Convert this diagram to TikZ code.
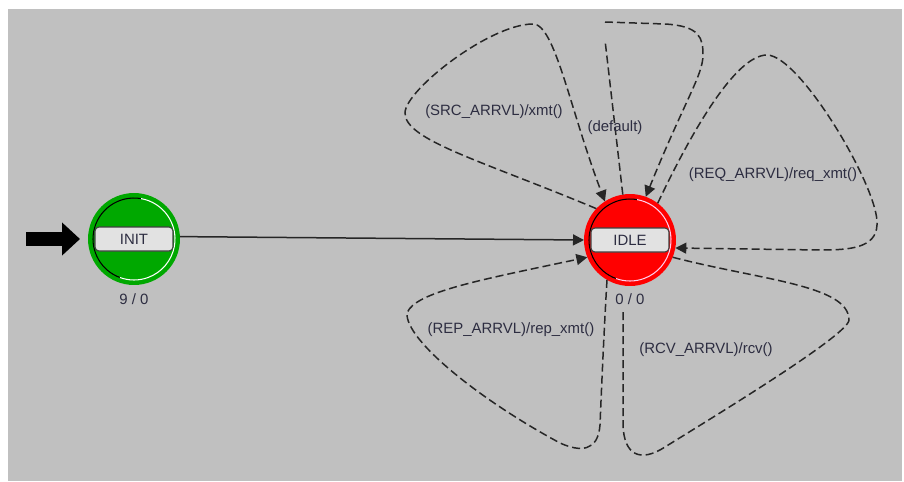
\documentclass[tikz,border=0pt]{standalone}
\usepackage{fontspec}
\setmainfont{Liberation Sans}
\usetikzlibrary{arrows.meta}
\definecolor{canvasgray}{RGB}{192,192,192}
\definecolor{initgreen}{RGB}{0,168,0}
\definecolor{idlered}{RGB}{255,0,0}
\definecolor{boxgray}{RGB}{226,226,226}
\definecolor{labelink}{RGB}{45,45,65}
\definecolor{pinkrim}{RGB}{255,205,235}
\newcommand\diagfont{\fontsize{8.5}{10}\selectfont}
\tikzset{
  stateball/.style={circle, minimum size=1.84cm, inner sep=0pt, outer sep=0pt, draw=none},
  statebox/.style={rectangle, rounded corners=0.08cm, draw=black!75, fill=boxgray, line width=0.6pt,
    minimum width=1.56cm, minimum height=0.48cm, inner sep=0pt, font=\diagfont, text=labelink},
  countlabel/.style={font=\diagfont, text=labelink, inner sep=1pt},
  translabel/.style={font=\diagfont, text=labelink, inner sep=1pt},
  rimdark/.style={draw=black, line width=0.6pt},
  rimlight/.style={draw=white, line width=0.6pt},
  trans/.style={line width=0.03cm, draw=black!85, dash pattern=on 0.16cm off 0.08cm,
    -{Triangle[length=0.22cm,width=0.22cm]}},
  transplain/.style={line width=0.03cm, draw=black!85, dash pattern=on 0.16cm off 0.08cm},
  flow/.style={line width=0.03cm, draw=black!85, -{Triangle[length=0.22cm,width=0.22cm]}},
  entryarrow/.style={line width=0.28cm, draw=black, shorten >=0.16cm,
    -{Triangle[length=0.36cm,width=0.64cm]}},
}
\begin{document}
\begin{tikzpicture}[x=0.02cm, y=-0.02cm]
\useasboundingbox (0,0) rectangle (904,481);
\fill[white] (0,0) rectangle (904,481);
\fill[canvasgray] (8,9) rectangle (902,481);

\node[stateball, fill=initgreen] (init) at (134,239) {};
\draw[rimdark] (init) ++(80:0.82cm) arc[start angle=80, end angle=250, radius=0.82cm];
\draw[rimlight] (init) ++(80:0.82cm) arc[start angle=80, end angle=-110, radius=0.82cm];
\node[statebox] (initbox) at (init) {INIT};
\node[countlabel] (initcount) at (134,299) {9 / 0};

\node[stateball, fill=idlered] (idle) at (630,240) {};
\draw[rimdark] (idle) ++(80:0.82cm) arc[start angle=80, end angle=250, radius=0.82cm];
\draw[rimlight, draw=pinkrim] (idle) ++(80:0.82cm) arc[start angle=80, end angle=-110, radius=0.82cm];
\node[statebox] (idlebox) at (idle) {IDLE};
\node[countlabel] (idlecount) at (630,299) {0 / 0};

\coordinate (entry) at (26,239);
\coordinate (rcvend) at (623,312);
\draw[entryarrow] (entry) -- (init.west);
\draw[flow] (init.3) -- (idle.180);

\draw[trans] (idle.137) .. controls (480,160) and (405,140) .. (405,113)
  .. controls (405,90) and (490,24) .. (533,24)
  .. controls (555,24) and (570,110) .. (idle.123);
\draw[trans] (idle.99) -- (605,40) (605,22) -- (665,24)
  .. controls (700,26) and (703,38) .. (703,55)
  .. controls (703,75) and (685,100) .. (idle.70);
\draw[trans] (idle.53) .. controls (690,135) and (735,55) .. (767,55)
  .. controls (800,55) and (880,190) .. (877,225)
  .. controls (876,248) and (850,250) .. (820,250)
  -- (idle.-10);
\draw[transplain] (idle.-22) .. controls (760,280) and (849,285) .. (849,320)
  .. controls (849,335) and (705,422) .. (665,447)
  .. controls (640,463) and (624,455) .. (623,425)
  -- (rcvend);
\draw[trans] (idle.-120) .. controls (604,330) and (601,400) .. (600,425)
  .. controls (598,452) and (580,452) .. (560,443)
  .. controls (480,400) and (405,340) .. (407,313)
  .. controls (415,292) and (480,280) .. (idle.-158);

\node[translabel] (srclabel) at (494,112) {(SRC\_ARRVL)/xmt()};
\node[translabel] (deflabel) at (615,128) {(default)};
\node[translabel] (reqlabel) at (773,175) {(REQ\_ARRVL)/req\_xmt()};
\node[translabel] (replabel) at (511,330) {(REP\_ARRVL)/rep\_xmt()};
\node[translabel] (rcvlabel) at (706,350) {(RCV\_ARRVL)/rcv()};
\end{tikzpicture}
\end{document}
